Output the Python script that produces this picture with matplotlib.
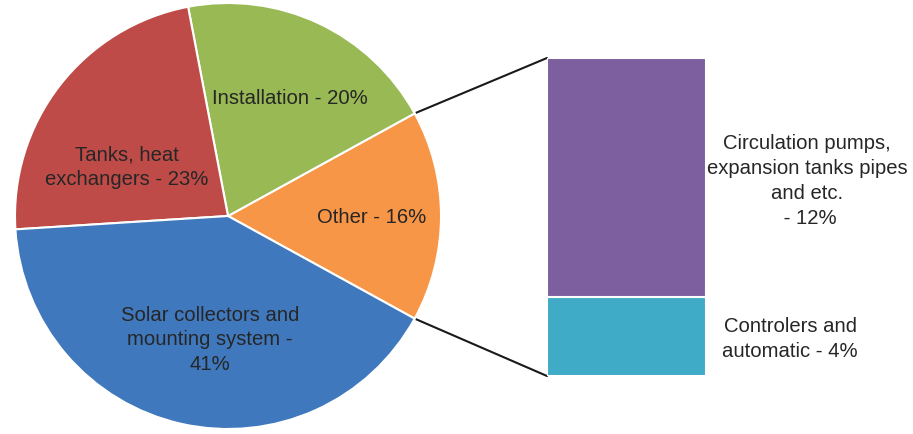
import numpy as np
import matplotlib.pyplot as plt
from matplotlib.patches import ConnectionPatch

plt.rcParams['font.family'] = ['Liberation Sans', 'DejaVu Sans']

# pie data (counter-clockwise from the "Other" wedge)
pie_labels = ['Other - 16%', 'Installation - 20%', 'Tanks, heat\nexchangers - 23%',
              'Solar collectors and\nmounting system -\n41%']
pie_values = [16, 20, 23, 41]
pie_colors = ['#F79646', '#98B954', '#BE4B48', '#3F78BC']

# breakdown of "Other"
bar_labels = ['Controlers and\nautomatic - 4%', 'Circulation pumps,\nexpansion tanks pipes\nand etc.\n - 12%']
bar_values = [4, 12]
bar_colors = ['#3FABC7', '#7D5FA0']

W, H = 913, 435
txt = '#262626'
fs = 14.6

fig = plt.figure(figsize=(W / 100, H / 100), dpi=100)
ax = fig.add_axes([0, 0, 1, 1])

cx, cy, r = 228, H - 217, 213
start = -pie_values[0] / 2 * 3.6
wedges, _ = ax.pie(pie_values, colors=pie_colors, startangle=start, counterclock=True,
                   center=(cx, cy), radius=r, frame=True,
                   wedgeprops=dict(edgecolor='white', linewidth=1.5))
ax.set_xlim(0, W)
ax.set_ylim(0, H)
ax.axis('off')
ax.set_zorder(2)

# label positions in pixels (x, y from top)
pie_pos = [(372, 218), (290, 99), (127, 167), (210, 340)]
for lab, (px, py) in zip(pie_labels, pie_pos):
    ax.text(px, H - py, lab, ha='center', va='center', fontsize=fs, color=txt,
            linespacing=1.38)

# stacked bar
bx0, bx1, by_top, by_bot = 547, 706, 59, 377
bax = fig.add_axes([bx0 / W, (H - by_bot) / H, (bx1 - bx0) / W, (by_bot - by_top) / H])
bax.set_zorder(1)
bottom = 0
for v, c in zip(bar_values, bar_colors):
    bax.bar(0, v, width=1, bottom=bottom, color=c, edgecolor='white', linewidth=1.5)
    bottom += v
bax.set_xlim(-0.5, 0.5)
bax.set_ylim(0, sum(bar_values))
bax.axis('off')

bar_pos = [(790, 339), (807, 181)]
for lab, (px, py) in zip(bar_labels, bar_pos):
    ax.text(px, H - py, lab, ha='center', va='center', fontsize=fs, color=txt,
            linespacing=1.38)

# connector lines from the "Other" wedge edges to the bar corners
th1 = np.deg2rad(wedges[0].theta1)
th2 = np.deg2rad(wedges[0].theta2)
for th, yb in [(th2, sum(bar_values)), (th1, 0)]:
    con = ConnectionPatch(xyA=(cx + r * np.cos(th), cy + r * np.sin(th)), coordsA=ax.transData,
                          xyB=(-0.5, yb), coordsB=bax.transData,
                          color='#1a1a1a', linewidth=1.5)
    fig.add_artist(con)

fig.savefig('out.png', dpi=100)
